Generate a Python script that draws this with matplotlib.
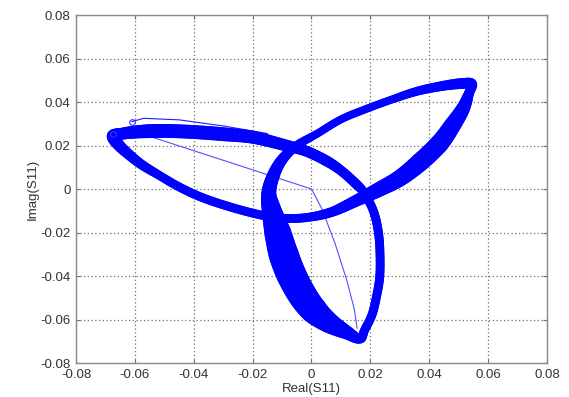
import numpy as np
import matplotlib
matplotlib.use("Agg")
import matplotlib.pyplot as plt
from matplotlib.collections import PolyCollection
from matplotlib.bezier import BezierSegment

plt.rcParams['font.family'] = ['Liberation Sans', 'DejaVu Sans']

# Steady-state S11 trajectory (one closed cycle, traced around the three lobes)
loop_real = [
    -0.0675, -0.064, -0.060, -0.055, -0.049, -0.040, -0.030, -0.020, -0.010, -0.002,
    0.005, 0.010, 0.015, 0.018, 0.021, 0.0225, 0.0232, 0.0232, 0.022, 0.0205,
    0.018, 0.0165,
    0.012, 0.006, 0.001, -0.003, -0.0068, -0.0095, -0.0115, -0.0135, -0.0145, -0.013,
    -0.010, -0.005, 0.002, 0.010, 0.018, 0.027, 0.036, 0.045, 0.051, 0.0545,
    0.0535, 0.0515, 0.048, 0.0435, 0.037, 0.030, 0.0225, 0.015, 0.007, -0.001,
    -0.009, -0.017, -0.027, -0.037, -0.045, -0.052, -0.058, -0.063, -0.066,
]
loop_imag = [
    0.0245, 0.0255, 0.0262, 0.0266, 0.0267, 0.0262, 0.0252, 0.0238, 0.0205, 0.0175,
    0.0130, 0.0085, 0.0025, -0.002, -0.010, -0.018, -0.027, -0.040, -0.050, -0.058,
    -0.065, -0.069,
    -0.066, -0.0615, -0.056, -0.049, -0.0395, -0.030, -0.020, -0.010, -0.002, 0.006,
    0.0135, 0.020, 0.0255, 0.032, 0.0365, 0.041, 0.045, 0.0475, 0.0485, 0.0484,
    0.044, 0.037, 0.0295, 0.021, 0.0125, 0.005, -0.0005, -0.0055, -0.0105, -0.013,
    -0.0135, -0.012, -0.0085, -0.004, 0.001, 0.0065, 0.0115, 0.017, 0.021,
]

# Start-up transient traces
start_real = [-0.0545, 0.0, 0.0035, 0.008, 0.012, 0.0145, 0.0155]
start_imag = [0.024, 0.0, -0.009, -0.025, -0.042, -0.055, -0.064]
upper_real = [-0.061, -0.057, -0.045, -0.030, -0.015]
upper_imag = [0.031, 0.0325, 0.0318, 0.029, 0.0255]

ticks = [-0.08, -0.06, -0.04, -0.02, 0, 0.02, 0.04, 0.06, 0.08]
tick_labels = ['-0.08', '-0.06', '-0.04', '-0.02', '0', '0.02', '0.04', '0.06', '0.08']

# Spread of the repeated cycles around the loop, in pixels
band_px = [
    11, 11, 12, 13, 13, 13, 13, 12, 11, 10,
    10, 9, 9, 8, 8, 8, 8, 8, 8, 8,
    8, 8,
    13, 20, 26, 28, 29, 29, 26, 19, 14, 12,
    10, 8, 7, 7, 7, 7, 8, 9, 10, 9,
    9, 13, 16, 18, 18, 16, 14, 11, 9, 8,
    8, 8, 8, 8, 8, 8, 9, 10, 11,
]


def smooth_curve(xs, ys, widths, steps=24):
    """Closed cubic Bezier curve through the vertices (Catmull-Rom tangents),
    sampled finely, with widths blended between the vertex widths."""
    p = np.column_stack([xs, ys])
    w = np.asarray(widths, float)
    n = len(p)
    t = np.linspace(0, 1, steps, endpoint=False)
    pts, ws = [], []
    for i in range(n):
        p0, p1, p2, p3 = p[i - 1], p[i], p[(i + 1) % n], p[(i + 2) % n]
        ctrl = np.array([p1, p1 + (p2 - p0) / 6.0, p2 - (p3 - p1) / 6.0, p2])
        pts.append(BezierSegment(ctrl)(t))
        ws.append(w[i] * (1 - t) + w[(i + 1) % n] * t)
    return np.vstack(pts), np.concatenate(ws)


def band_quads(ax, pts, ws):
    """Quadrilaterals of the given pixel widths around a closed curve."""
    disp = ax.transData.transform(pts)
    tan = np.roll(disp, -1, axis=0) - np.roll(disp, 1, axis=0)
    tan /= np.linalg.norm(tan, axis=1, keepdims=True)
    nrm = np.column_stack([-tan[:, 1], tan[:, 0]]) * (ws[:, None] / 2.0)
    left, right = disp + nrm, disp - nrm
    inv = ax.transData.inverted()
    left, right = inv.transform(left), inv.transform(right)
    quads = [[left[i], left[i + 1 - len(pts)], right[i + 1 - len(pts)], right[i]]
             for i in range(len(pts))]
    return quads


fig = plt.figure(figsize=(5.69, 3.97), dpi=100)
ax = fig.add_axes([0.1336, 0.0856, 0.8277, 0.8766])
ax.set_xlim(-0.08, 0.08)
ax.set_ylim(-0.08, 0.08)

pts, ws = smooth_curve(loop_real, loop_imag, band_px)
ax.add_collection(PolyCollection(band_quads(ax, pts, ws), facecolors='#0000ff',
                                 edgecolors='#0000ff', linewidths=0.6, zorder=3))

ax.plot(start_real, start_imag, color='#5050ff', lw=0.8, zorder=2)
ax.plot(upper_real, upper_imag, color='#1a1aff', lw=0.8, zorder=2)
ax.plot([upper_real[0], loop_real[0]], [upper_imag[0], loop_imag[0] + 0.001],
        linestyle='none', marker='o', ms=4, mfc='none', mec='#3333ff', mew=0.8, zorder=4)

ax.set_xticks(ticks)
ax.set_yticks(ticks)
ax.set_xticklabels(tick_labels)
ax.set_yticklabels(tick_labels)
ax.grid(True, linestyle=(0, (1, 2)), color='#707070', linewidth=0.9)
ax.set_axisbelow(True)
ax.tick_params(direction='in', length=3, width=0.8, color='#707070',
               top=True, right=True, labelsize=9.5, labelcolor='#333333', pad=4)
for s in ax.spines.values():
    s.set_color('#8a8a8a')
    s.set_linewidth(1.0)

ax.set_xlabel('Real(S11)', fontsize=9.5, color='#333333', labelpad=2)
ax.set_ylabel('Imag(S11)', fontsize=9.5, color='#333333')
ax.yaxis.set_label_coords(-0.08, 0.5)

fig.savefig('out.png', dpi=100)
